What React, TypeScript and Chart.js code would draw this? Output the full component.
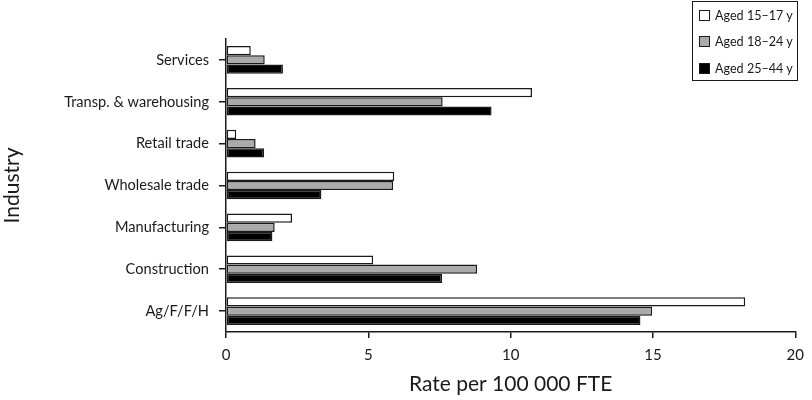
import React, { useEffect, useRef } from "react";
import { Chart, registerables } from "chart.js";

Chart.register(...registerables);

const categories = [
  "Services",
  "Transp. & warehousing",
  "Retail trade",
  "Wholesale trade",
  "Manufacturing",
  "Construction",
  "Ag/F/F/H",
];
const seriesNames = ["Aged 15–17 y", "Aged 18–24 y", "Aged 25–44 y"];
const aged15to17 = [0.87, 10.75, 0.36, 5.91, 2.32, 5.17, 18.24];
const aged18to24 = [1.36, 7.61, 1.04, 5.87, 1.71, 8.82, 14.97];
const aged25to44 = [2.0, 9.33, 1.34, 3.35, 1.63, 7.59, 14.56];
const seriesColors = ["#ffffff", "#aaaaaa", "#000000"];
const xTicks = [0, 5, 10, 15, 20];

const FONT = "Lato, 'Open Sans', sans-serif";

export default function App() {
  const ref = useRef<HTMLCanvasElement | null>(null);
  useEffect(() => {
    if (!ref.current) return;
    const values = [aged15to17, aged18to24, aged25to44];
    const chart = new Chart(ref.current, {
      type: "bar",
      data: {
        labels: categories,
        datasets: seriesNames.map((n, i) => ({
          label: n,
          data: values[i],
          backgroundColor: seriesColors[i],
          borderColor: "#1a1a1a",
          borderWidth: 1.5,
          borderSkipped: false,
          categoryPercentage: 0.66,
          barPercentage: 1.0,
        })),
      },
      options: {
        indexAxis: "y",
        animation: false,
        responsive: false,
        layout: { padding: { top: 39, right: 13, left: 0, bottom: 0 } },
        plugins: { legend: { display: false }, tooltip: { enabled: false } },
        scales: {
          x: {
            min: 0,
            max: 20,
            afterFit: (s: any) => {
              s.height = 68;
            },
            afterBuildTicks: (s: any) => {
              s.ticks = xTicks.map((v) => ({ value: v }));
            },
            border: { color: "#1a1a1a", width: 1.5 },
            grid: {
              drawOnChartArea: false,
              drawTicks: true,
              tickLength: 6,
              color: "#1a1a1a",
              lineWidth: 1.5,
            },
            ticks: {
              color: "#1a1a1a",
              font: { family: FONT, size: 15 },
              padding: 8,
              maxRotation: 0,
            },
            title: {
              display: true,
              text: "Rate per 100 000 FTE",
              color: "#1a1a1a",
              font: { family: FONT, size: 21 },
              padding: { top: 2, bottom: 3 },
            },
          },
          y: {
            afterFit: (s: any) => {
              s.width = 226;
            },
            border: { color: "#1a1a1a", width: 1.5 },
            grid: {
              drawOnChartArea: false,
              drawTicks: true,
              tickLength: 7,
              color: "#1a1a1a",
              lineWidth: 1.5,
              offset: false,
            },
            ticks: {
              color: "#1a1a1a",
              font: { family: FONT, size: 14.6 },
              padding: 10,
            },
            title: {
              display: true,
              text: "Industry",
              color: "#1a1a1a",
              font: { family: FONT, size: 21 },
              padding: { top: 0, bottom: 0 },
            },
          },
        },
      },
    });
    return () => chart.destroy();
  }, []);

  return (
    <div style={{ position: "fixed", left: 0, top: 0, width: 812, height: 400, background: "#fff" }}>
      <canvas ref={ref} width={812} height={400} style={{ display: "block" }} />
      <div
        style={{
          position: "absolute",
          left: 692,
          top: 1,
          width: 106,
          height: 80,
          border: "1.5px solid #1a1a1a",
          fontFamily: FONT,
          fontSize: 12.6,
          color: "#1a1a1a",
          boxSizing: "border-box",
          paddingTop: 0,
          whiteSpace: "nowrap",
        }}
      >
        {seriesNames.map((n, i) => (
          <div key={n} style={{ display: "flex", alignItems: "center", height: 26.5, paddingLeft: 6 }}>
            <span
              style={{
                display: "inline-block",
                width: 9,
                height: 9,
                background: seriesColors[i],
                border: "1.5px solid #1a1a1a",
                marginRight: 5,
                flex: "none",
              }}
            />
            <span>{n}</span>
          </div>
        ))}
      </div>
    </div>
  );
}
